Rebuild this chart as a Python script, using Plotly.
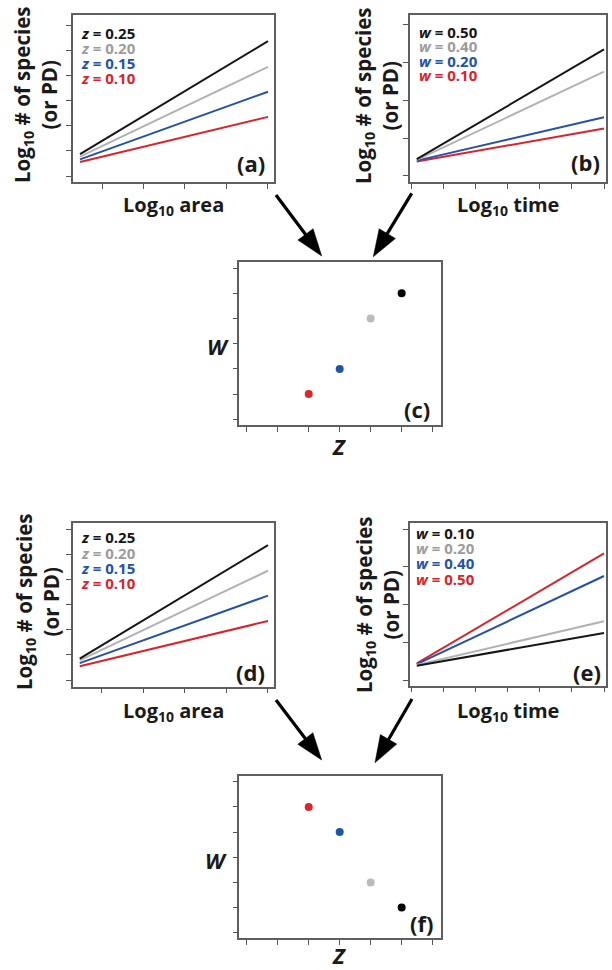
import math
import plotly.graph_objects as go

W, H = 612, 970

# ---------------- data ----------------
# (a)/(d): log10 # species vs log10 area, four z values
area_x = [0.47, 5.0]
z_labels = ["0.25", "0.20", "0.15", "0.10"]
area_y_a = [[0.87, 5.36], [0.77, 4.34], [0.66, 3.35], [0.56, 2.35]]
area_y_d = [[0.85, 5.37], [0.78, 4.35], [0.67, 3.36], [0.55, 2.35]]

# (b): log10 # species vs log10 time, w = 0.50, 0.40, 0.20, 0.10
time_x = [0.18, 6.0]
w_labels_b = ["0.50", "0.40", "0.20", "0.10"]
time_y_b = [[0.44, 3.35], [0.42, 2.76], [0.40, 1.55], [0.38, 1.25]]
# (e): w = 0.10, 0.20, 0.40, 0.50
w_labels_e = ["0.10", "0.20", "0.40", "0.50"]
time_y_e = [[0.38, 1.25], [0.40, 1.56], [0.42, 2.76], [0.44, 3.36]]

# (c)/(f): W vs Z
z_vals = [0.25, 0.20, 0.15, 0.10]
w_vals_c = [0.5, 0.4, 0.2, 0.1]
w_vals_f = [0.1, 0.2, 0.4, 0.5]

area_ticks = [1, 2, 3, 4, 5]
area_yticks = [0, 1, 2, 3, 4, 5, 6]
time_ticks = [0, 1, 2, 3, 4, 5, 6]
time_yticks = [0, 1, 2, 3, 4]
z_ticks = [0, 0.05, 0.10, 0.15, 0.20, 0.25, 0.30]
w_ticks = [0, 0.1, 0.2, 0.3, 0.4, 0.5, 0.6]

LINE_COLORS = ["#161616", "#b2b2b2", "#2452a8", "#d8242a"]
TEXT_COLORS = ["#161616", "#9c9c9c", "#2452a8", "#d8242a"]
DOT_COLORS = ["#000000", "#b8bcbf", "#1f55a8", "#e0242c"]

FONT = "Open Sans"


def px(x):
    return x / W


def py(y):
    return 1 - y / H


def axis(dom, rng, tv, anchor, horiz):
    d = dict(range=rng, tickvals=tv, ticks="outside", ticklen=5, tickwidth=1,
             tickcolor="#555555", showticklabels=False, showline=True,
             linecolor="#5f5f5f", linewidth=1.5, mirror=True, showgrid=False,
             zeroline=False, anchor=anchor, fixedrange=True)
    if horiz:
        d["domain"] = [px(dom[0]), px(dom[1])]
    else:
        d["domain"] = [py(dom[1]), py(dom[0])]
    return d


fig = go.Figure()

panels = {
    # name: (xpix, ypix, xrange, yrange, xticks, yticks)
    "a": ((73, 274), (15, 182), [0.301, 5.145], [-0.238, 6.40], area_ticks, area_yticks),
    "b": ((410, 606), (15, 182), [-0.031, 6.062], [-0.167, 4.265], time_ticks, time_yticks),
    "c": ((239.3, 440.7), (262.3, 425), [-0.012, 0.313], [-0.0226, 0.623], z_ticks, w_ticks),
    "d": ((72.7, 274), (523.3, 686.7), [0.301, 5.145], [-0.267, 6.24], area_ticks, area_yticks),
    "e": ((410, 606), (523.3, 685.7), [-0.031, 6.062], [-0.151, 4.159], time_ticks, time_yticks),
    "f": ((239.3, 440.7), (775.7, 938.3), [-0.012, 0.313], [-0.0222, 0.624], z_ticks, w_ticks),
}

layout_axes = {}
axid = {}
for i, (name, (xp, yp, xr, yr, xt, yt)) in enumerate(panels.items(), start=1):
    sx = "" if i == 1 else str(i)
    layout_axes["xaxis" + sx] = axis(xp, xr, xt, "y" + sx, True)
    layout_axes["yaxis" + sx] = axis(yp, yr, yt, "x" + sx, False)
    axid[name] = ("x" + sx, "y" + sx)


def add_lines(panel, xs, ys_list):
    xa, ya = axid[panel]
    for k in reversed(range(len(ys_list))):
        fig.add_trace(go.Scatter(x=xs, y=ys_list[k], mode="lines",
                                 line=dict(color=LINE_COLORS[k], width=2),
                                 xaxis=xa, yaxis=ya, showlegend=False,
                                 hoverinfo="skip"))


add_lines("a", area_x, area_y_a)
add_lines("d", area_x, area_y_d)
add_lines("b", time_x, time_y_b)
add_lines("e", time_x, time_y_e)

for panel, wv in (("c", w_vals_c), ("f", w_vals_f)):
    xa, ya = axid[panel]
    fig.add_trace(go.Scatter(x=z_vals, y=wv, mode="markers",
                             marker=dict(color=DOT_COLORS, size=8),
                             xaxis=xa, yaxis=ya, showlegend=False,
                             hoverinfo="skip"))

ann = []


def text(x, y, s, size, color="#1a1a1a", xanchor="center", yanchor="middle", angle=0):
    ann.append(dict(x=px(x), y=py(y), xref="paper", yref="paper", text=s,
                    showarrow=False, xanchor=xanchor, yanchor=yanchor,
                    textangle=angle,
                    font=dict(family=FONT, size=size, color=color)))


# in-panel legends
def legend(x, ys, sym, labels):
    for k, (y, lab) in enumerate(zip(ys, labels)):
        text(x, y, "<b><i>%s</i> = %s</b>" % (sym, lab), 15, TEXT_COLORS[k], xanchor="left")


legend(79, [33.3, 48.3, 62.7, 77.7], "z", z_labels)
legend(417, [31.7, 46, 60.7, 75], "w", w_labels_b)
legend(79, [537.3, 552.7, 568.3, 583.3], "z", z_labels)
legend(414, [533.3, 548.3, 563.3, 579], "w", w_labels_e)

# panel labels
for lab, x, y in (("(a)", 267, 163), ("(b)", 602, 162), ("(c)", 432, 409),
                  ("(d)", 267, 672), ("(e)", 603, 672), ("(f)", 435, 923)):
    text(x, y, "<b>%s</b>" % lab, 22, xanchor="right")

# axis titles
YT = "<b>Log<sub>10</sub> # of species<br>(or PD)</b>"
text(36, 95, YT, 20.5, angle=-90)
text(377, 96, YT, 20.5, angle=-90)
text(37, 602, YT, 20.5, angle=-90)
text(377, 605, YT, 20.5, angle=-90)
text(173, 205, "<b>Log<sub>10</sub> area</b>", 20)
text(508, 205, "<b>Log<sub>10</sub> time</b>", 20)
text(173, 711, "<b>Log<sub>10</sub> area</b>", 20)
text(508, 711, "<b>Log<sub>10</sub> time</b>", 20)
text(218, 346, "<b><i>W</i></b>", 22)
text(339, 446, "<b><i>Z</i></b>", 22)
text(216, 860, "<b><i>W</i></b>", 22)
text(339, 955, "<b><i>Z</i></b>", 22)

# arrows (tip, tail) in pixels, drawn as a line plus a triangular head
shapes = []
HEAD_L, HEAD_HW = 27, 9.5
for (tx, ty), (sx, sy) in (((321.7, 256), (276, 195)), ((373.3, 256.7), (411.7, 193.3)),
                           ((321.7, 760), (276, 700)), ((375, 762.7), (412, 699))):
    dx, dy = tx - sx, ty - sy
    ln = math.hypot(dx, dy)
    ux, uy = dx / ln, dy / ln
    nx, ny = -uy, ux
    bx, by = tx - HEAD_L * ux, ty - HEAD_L * uy
    shapes.append(dict(type="line", xref="paper", yref="paper",
                       x0=px(sx), y0=py(sy), x1=px(bx + 3 * ux), y1=py(by + 3 * uy),
                       line=dict(color="black", width=3.2)))
    p1 = (bx + HEAD_HW * nx, by + HEAD_HW * ny)
    p2 = (bx - HEAD_HW * nx, by - HEAD_HW * ny)
    path = "M %f %f L %f %f L %f %f Z" % (px(tx), py(ty), px(p1[0]), py(p1[1]),
                                          px(p2[0]), py(p2[1]))
    shapes.append(dict(type="path", xref="paper", yref="paper", path=path,
                       fillcolor="black", line=dict(color="black", width=0.5)))

fig.update_layout(width=W, height=H, margin=dict(l=0, r=0, t=0, b=0),
                  paper_bgcolor="white", plot_bgcolor="white",
                  annotations=ann, shapes=shapes, showlegend=False,
                  font=dict(family=FONT), **layout_axes)

fig.write_html("out.html", config={"displayModeBar": False},
               post_script="document.body.style.margin='0';document.body.style.overflow='hidden';")
